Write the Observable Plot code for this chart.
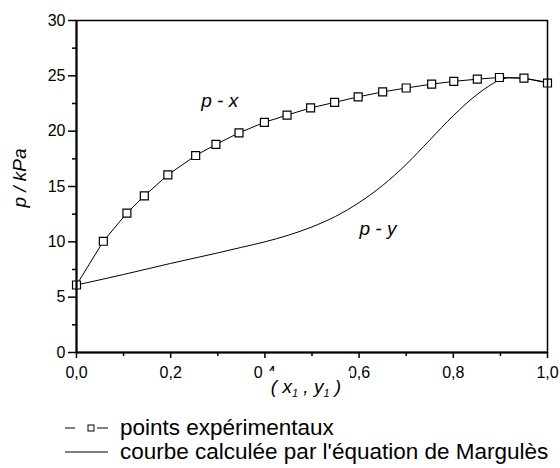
<!DOCTYPE html>
<html>
<head>
<meta charset="utf-8">
<script src="https://cdn.jsdelivr.net/npm/d3@7"></script>
<script src="https://cdn.jsdelivr.net/npm/@observablehq/plot@0.6"></script>
<style>
  body { margin: 0; background: #fff; font-family: Arial, "Liberation Sans", sans-serif; }
  #legend { margin: 4px 0 0 65px; font-size: 22.5px; line-height: 24px; color: #000; }
  .row { display: flex; align-items: center; height: 24px; }
  .row svg { margin-right: 12px; }
</style>
</head>
<body>
<div id="chart"></div>
<div id="legend"></div>
<script>
// experimental points (p - x)
const xExp = [0, 0.057, 0.107, 0.144, 0.194, 0.253, 0.296, 0.345, 0.399, 0.447, 0.497, 0.548, 0.598, 0.650, 0.700, 0.754, 0.801, 0.851, 0.898, 0.950, 1.0];
const pExp = [6.1, 10.05, 12.6, 14.15, 16.05, 17.8, 18.8, 19.85, 20.8, 21.45, 22.1, 22.6, 23.1, 23.55, 23.9, 24.25, 24.5, 24.7, 24.85, 24.8, 24.35];
// calculated curve (p - y)
const yCalc = [0, 0.1, 0.2, 0.3, 0.35, 0.4, 0.45, 0.5, 0.55, 0.6, 0.65, 0.7, 0.75, 0.8, 0.85, 0.88, 0.9, 0.92, 0.95, 1.0];
const pCalc = [6.1, 7.05, 8.05, 9.0, 9.5, 10.0, 10.6, 11.35, 12.3, 13.55, 15.1, 17.0, 19.2, 21.4, 23.3, 24.2, 24.65, 24.82, 24.75, 24.4];
// axis ticks
const xTicks = [0, 0.2, 0.4, 0.6, 0.8, 1.0];
const xMinor = [0.1, 0.3, 0.5, 0.7, 0.9];
const yTicks = [0, 5, 10, 15, 20, 25, 30];
const yMinor = [2.5, 7.5, 12.5, 17.5, 22.5, 27.5];
// annotations
const notes = [{x: 0.304, p: 22.7, text: "p - x"}, {x: 0.64, p: 11.2, text: "p - y"}];
const legendLabels = ["points expérimentaux", "courbe calculée par l'équation de Margulès"];

const exp = xExp.map((x, i) => ({x, p: pExp[i]}));
const calc = yCalc.map((x, i) => ({x, p: pCalc[i]}));
const fmt = d => d.toFixed(1).replace(".", ",");

const chart = Plot.plot({
  width: 560,
  height: 412,
  marginLeft: 76,
  marginRight: 13,
  marginTop: 20,
  marginBottom: 60,
  style: {fontFamily: "Arial, 'Liberation Sans', sans-serif", fontSize: "16px", color: "#000", background: "#fff"},
  x: {domain: [0, 1], axis: null},
  y: {domain: [0, 30], axis: null},
  marks: [
    Plot.axisX({ticks: xMinor, tickSize: 4, text: null, strokeWidth: 1.5, label: null}),
    Plot.axisX({ticks: xTicks, tickSize: 6, tickPadding: 8, tickFormat: fmt, strokeWidth: 1.5, fontSize: 16, label: null}),
    Plot.axisY({ticks: yMinor, tickSize: 4, text: null, strokeWidth: 1.5, label: null}),
    Plot.axisY({ticks: yTicks, tickSize: 8, tickPadding: 3, strokeWidth: 1.5, fontSize: 16, label: null}),
    Plot.line(calc, {x: "x", y: "p", curve: "monotone-x", stroke: "#000", strokeWidth: 1}),
    Plot.line(exp, {x: "x", y: "p", stroke: "#000", strokeWidth: 1}),
    Plot.dot(exp, {x: "x", y: "p", symbol: "square", r: 4.5, fill: "#fff", stroke: "#000", strokeWidth: 1.2}),
    Plot.text(notes, {x: "x", y: "p", text: "text", fontSize: 19, fontStyle: "italic", fill: "#000"}),
    Plot.frame({stroke: "#000", strokeWidth: 1.5}),
    Plot.ruleX([0], {stroke: "#000", strokeWidth: 2}),
    Plot.ruleY([0], {stroke: "#000", strokeWidth: 2})
  ]
});
document.getElementById("chart").appendChild(chart);

// axis titles with subscripts
const svg = d3.select(chart);
svg.append("rect").attr("x", 264).attr("y", 371).attr("width", 86).attr("height", 30).attr("fill", "#fff");
const xt = svg.append("text").attr("x", 306).attr("y", 393).attr("text-anchor", "middle")
  .attr("font-size", 19).attr("font-style", "italic").attr("fill", "#000");
xt.append("tspan").text("( x");
xt.append("tspan").attr("font-size", 11).attr("dy", 4).text("1");
xt.append("tspan").attr("dy", -4).text(" , y");
xt.append("tspan").attr("font-size", 11).attr("dy", 4).text("1");
xt.append("tspan").attr("dy", -4).text(" )");
svg.append("text").attr("transform", "translate(26,178) rotate(-90)").attr("text-anchor", "middle")
  .attr("font-size", 19).attr("font-style", "italic").attr("fill", "#000").text("p / kPa");

// legend
const leg = d3.select("#legend");
const r1 = leg.append("div").attr("class", "row");
const s1 = r1.append("svg").attr("width", 43).attr("height", 24);
s1.append("line").attr("x1", 0).attr("x2", 10).attr("y1", 12).attr("y2", 12).attr("stroke", "#000");
s1.append("rect").attr("x", 23).attr("y", 9).attr("width", 6).attr("height", 6).attr("fill", "#fff").attr("stroke", "#000");
s1.append("line").attr("x1", 32).attr("x2", 43).attr("y1", 12).attr("y2", 12).attr("stroke", "#000");
r1.append("span").text(legendLabels[0]);
const r2 = leg.append("div").attr("class", "row");
const s2 = r2.append("svg").attr("width", 43).attr("height", 24);
s2.append("line").attr("x1", 0).attr("x2", 43).attr("y1", 12).attr("y2", 12).attr("stroke", "#000");
r2.append("span").text(legendLabels[1]);
</script>
</body>
</html>
